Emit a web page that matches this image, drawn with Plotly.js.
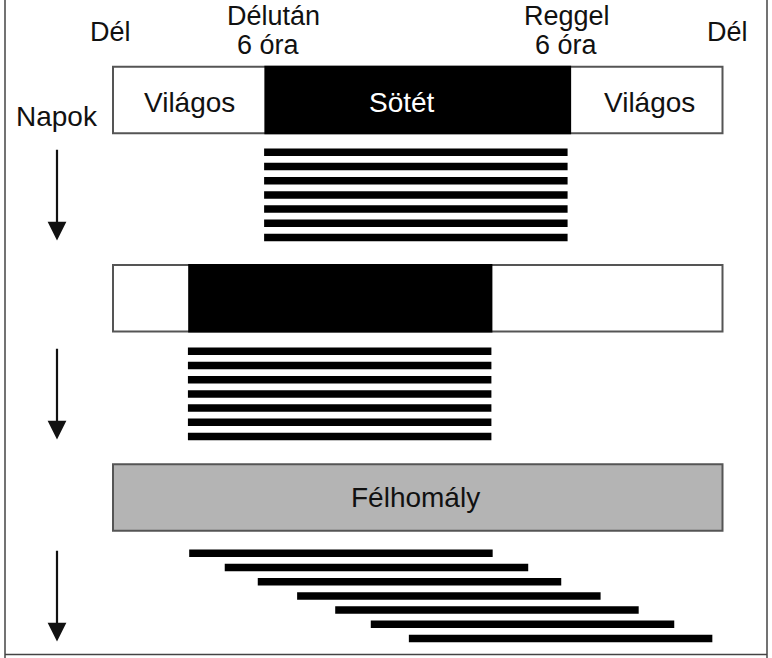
<!DOCTYPE html>
<html>
<head>
<meta charset="utf-8">
<script src="https://cdn.plot.ly/plotly-3.0.1.min.js"></script>
<style>html,body{margin:0;padding:0;background:#fff;}#chart{width:772px;height:658px;}</style>
</head>
<body>
<div id="chart"></div>
<script>
// ---- data (hours after noon, 0 = noon, 24 = next noon) ----
const hourTicks = [0, 6, 18, 24];
const hourLabels = ['Dél', 'Délután<br>6 óra', 'Reggel<br>6 óra', 'Dél'];
const panelNames = ['Világos', 'Sötét', 'Világos'];
const panel3Name = 'Félhomály';
const axisLabel = 'Napok';

const dark1 = [6, 18];
const dark2 = [3, 14.9];

const onsets1 = [5.95, 5.95, 5.95, 5.95, 5.95, 5.95, 5.95];
const offsets1 = [17.9, 17.9, 17.9, 17.9, 17.9, 17.9, 17.9];
const onsets2 = [2.95, 2.95, 2.95, 2.95, 2.95, 2.95, 2.95];
const offsets2 = [14.9, 14.9, 14.9, 14.9, 14.9, 14.9, 14.9];
const onsets3 = [3.0, 4.4, 5.7, 7.25, 8.75, 10.15, 11.65];
const offsets3 = [14.95, 16.35, 17.65, 19.2, 20.7, 22.1, 23.6];

// ---- layout geometry (pixels) ----
const W = 772, H = 658;
const BOX_L = 113, BOX_R = 722.5;
const PPH = (BOX_R - BOX_L) / 24;
const xr = [-BOX_L / PPH, (W - BOX_L) / PPH];
const boxTop = [66.7, 265, 464.3];
const boxH = 66.5;
const barFirst = [152.3, 351.3, 553.3];
const barStep = 14.2;
const barW = 7.5;
const arrowPx = 57;
const arrowX = (arrowPx - BOX_L) / PPH;
const topShift1 = [-3, 8, -3, 5];    // px nudges of top labels, line 1
const topShift2 = [0, 3, -4, 0];     // line 2
const nameShift = [0, -16, 3];       // px nudges of box labels

function rows(p, n) { const r = []; for (let i = 0; i < n; i++) r.push(barFirst[p] + i * barStep); return r; }
function dur(on, off) { return off.map((v, i) => v - on[i]); }

const barSets = [[onsets1, offsets1], [onsets2, offsets2], [onsets3, offsets3]];
const traces = barSets.map((s, p) => ({
  type: 'bar', orientation: 'h',
  y: rows(p, s[0].length), base: s[0], x: dur(s[0], s[1]),
  width: barW,
  marker: { color: '#000', line: { width: 0 } },
  hoverinfo: 'skip', showlegend: false
}));

const shapes = [];
const fills = ['#ffffff', '#ffffff', '#b4b4b4'];
for (let p = 0; p < 3; p++) {
  shapes.push({ type: 'rect', xref: 'x', yref: 'y', x0: 0, x1: 24, y0: boxTop[p], y1: boxTop[p] + boxH,
    fillcolor: fills[p], line: { color: '#555', width: 2 }, layer: 'below' });
}
[dark1, dark2].forEach((d, p) => {
  shapes.push({ type: 'rect', xref: 'x', yref: 'y', x0: d[0], x1: d[1], y0: boxTop[p], y1: boxTop[p] + boxH,
    fillcolor: '#000', line: { color: '#000', width: 2 }, layer: 'below' });
});
const fc = '#444';
shapes.push({ type: 'line', xref: 'paper', yref: 'paper', x0: 5 / W, x1: 5 / W, y0: 0, y1: 1, line: { color: fc, width: 1.5 } });
shapes.push({ type: 'line', xref: 'paper', yref: 'paper', x0: 767 / W, x1: 767 / W, y0: 0, y1: 1, line: { color: fc, width: 1.5 } });
shapes.push({ type: 'line', xref: 'paper', yref: 'paper', x0: 5 / W, x1: 767 / W, y0: 1 - 654.5 / H, y1: 1 - 654.5 / H, line: { color: fc, width: 1.5 } });

const font = { family: 'Liberation Sans, Arial, sans-serif', size: 28, color: '#111' };
const topFont = Object.assign({}, font, { size: 27 });
const ann = [];
function txt(x, y, t, f, xs) {
  ann.push({ xref: 'x', yref: 'y', x: x, y: y, text: t, showarrow: false, font: f || font,
    xanchor: 'center', yanchor: 'middle', xshift: xs || 0 });
}
hourTicks.forEach((h, i) => {
  const lines = hourLabels[i].split('<br>');
  if (lines.length === 1) txt(h, 32, lines[0], topFont, topShift1[i]);
  else { txt(h, 16, lines[0], topFont, topShift1[i]); txt(h, 45, lines[1], topFont, topShift2[i]); }
});
const nameX = [3, 12, 21];
panelNames.forEach((t, i) => {
  txt(nameX[i], boxTop[0] + boxH / 2 + 2.5, t, Object.assign({}, font, { color: i === 1 ? '#fff' : '#111' }), nameShift[i]);
});
txt(12, boxTop[2] + boxH / 2, panel3Name, null, -2);
txt(arrowX, 116.5, axisLabel);
for (let p = 0; p < 3; p++) {
  const top = barFirst[p] - 4;
  const tip = barFirst[p] + 6 * barStep + 3;
  ann.push({ xref: 'x', yref: 'y', axref: 'x', ayref: 'y', x: arrowX, y: tip, ax: arrowX, ay: top,
    text: '', showarrow: true, arrowhead: 2, arrowsize: 1.7, arrowwidth: 2.2, arrowcolor: '#111', standoff: 0 });
}

const layout = {
  width: W, height: H, margin: { l: 0, r: 0, t: 0, b: 0, pad: 0 },
  paper_bgcolor: '#fff', plot_bgcolor: '#fff',
  barmode: 'overlay', showlegend: false,
  xaxis: { range: xr, visible: false, fixedrange: true },
  yaxis: { range: [H, 0], visible: false, fixedrange: true },
  shapes: shapes, annotations: ann
};
Plotly.newPlot('chart', traces, layout, { displayModeBar: false, staticPlot: true });
</script>
</body>
</html>
